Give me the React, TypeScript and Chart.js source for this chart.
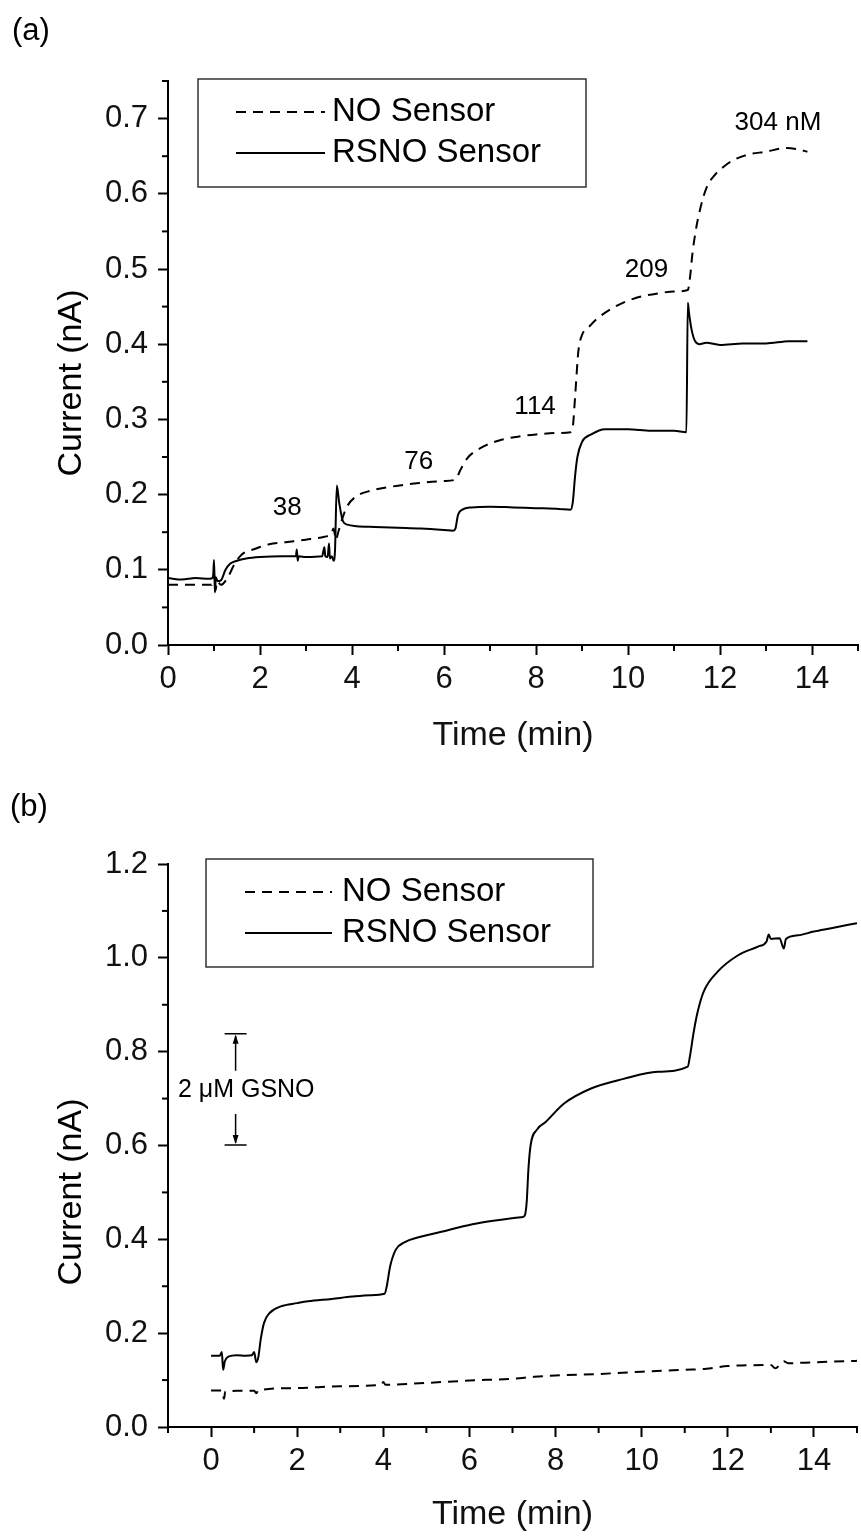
import React, { useEffect, useRef } from "react";
import { Chart, registerables } from "chart.js";
Chart.register(...registerables);

const FONT = "'Liberation Sans', Arial, Helvetica, sans-serif";

// ---------------- Panel (a) data: [time (min), current (nA)] ----------------
const noSensorA: [number, number][] = [
  [0, 0.08], [0.5, 0.08], [0.95, 0.08], [1.0, 0.095], [1.03, 0.072], [1.07, 0.085], [1.15, 0.08],
  [1.3, 0.09], [1.45, 0.108], [1.6, 0.12], [1.9, 0.128], [2.2, 0.134], [2.6, 0.137], [3.0, 0.14],
  [3.4, 0.144], [3.55, 0.148], [3.6, 0.155], [3.65, 0.14], [3.7, 0.15], [3.8, 0.17], [3.9, 0.185],
  [4.1, 0.198], [4.4, 0.205], [4.8, 0.21], [5.4, 0.215], [6.0, 0.218], [6.25, 0.22], [6.35, 0.232],
  [6.5, 0.248], [6.8, 0.262], [7.2, 0.272], [7.6, 0.277], [8.0, 0.28], [8.5, 0.282], [8.75, 0.283],
  [8.8, 0.29], [8.85, 0.33], [8.92, 0.39], [9.0, 0.412], [9.15, 0.423], [9.35, 0.435], [9.75, 0.451],
  [10.2, 0.462], [10.7, 0.468], [11.0, 0.47], [11.3, 0.472], [11.35, 0.49], [11.4, 0.52], [11.47, 0.55],
  [11.57, 0.58], [11.7, 0.607], [11.9, 0.626], [12.1, 0.637], [12.3, 0.645], [12.6, 0.652], [13.0, 0.656],
  [13.45, 0.661], [13.7, 0.659], [13.9, 0.656],
];
const rsnoSensorA: [number, number][] = [
  [0, 0.089], [0.3, 0.087], [0.6, 0.089], [0.9, 0.088], [0.98, 0.09], [1.0, 0.113], [1.02, 0.07],
  [1.04, 0.09], [1.08, 0.085], [1.15, 0.086], [1.25, 0.1], [1.35, 0.108], [1.5, 0.112], [1.7, 0.115],
  [2.0, 0.117], [2.5, 0.118], [2.78, 0.118], [2.8, 0.127], [2.82, 0.112], [2.84, 0.118], [3.0, 0.117],
  [3.35, 0.118], [3.4, 0.13], [3.42, 0.118], [3.47, 0.117], [3.5, 0.135], [3.52, 0.115], [3.56, 0.118],
  [3.6, 0.112], [3.63, 0.125], [3.67, 0.212], [3.72, 0.19], [3.8, 0.165], [3.9, 0.16], [4.1, 0.158],
  [4.5, 0.157], [5.0, 0.156], [5.5, 0.155], [6.0, 0.153], [6.2, 0.152], [6.25, 0.155], [6.3, 0.172],
  [6.4, 0.18], [6.6, 0.183], [7.0, 0.184], [7.5, 0.183], [8.0, 0.182], [8.5, 0.181], [8.75, 0.18],
  [8.8, 0.19], [8.85, 0.225], [8.9, 0.25], [9.0, 0.27], [9.2, 0.28], [9.5, 0.287], [10.0, 0.287],
  [10.5, 0.285], [11.0, 0.285], [11.27, 0.283], [11.3, 0.455], [11.33, 0.44], [11.38, 0.42],
  [11.45, 0.405], [11.55, 0.4], [11.7, 0.402], [12.0, 0.399], [12.5, 0.401], [13.0, 0.401],
  [13.5, 0.404], [13.9, 0.404],
];
const concLabelsA = ["38", "76", "114", "209", "304 nM"];
const concLabelTimeA = [2.59, 5.45, 7.98, 10.4, 13.26];
const concLabelCurrentA = [0.182, 0.244, 0.317, 0.499, 0.694];
const xTicksA = [0, 2, 4, 6, 8, 10, 12, 14];
const xMinorA = [1, 3, 5, 7, 9, 11, 13, 15];
const yTicksA = [0, 0.1, 0.2, 0.3, 0.4, 0.5, 0.6, 0.7];
const yMinorA = [0.05, 0.15, 0.25, 0.35, 0.45, 0.55, 0.65, 0.75];

// ---------------- Panel (b) data ----------------
const noSensorB: [number, number][] = [
  [0, 0.078], [0.25, 0.078], [0.3, 0.06], [0.33, 0.075], [0.6, 0.077], [1.0, 0.077], [1.05, 0.072],
  [1.1, 0.078], [2.0, 0.083], [3.0, 0.087], [3.95, 0.09], [4.0, 0.096], [4.05, 0.09], [5.0, 0.094],
  [6.0, 0.099], [7.0, 0.103], [7.5, 0.107], [8.0, 0.11], [9.0, 0.113], [10.0, 0.118], [11.0, 0.122],
  [11.5, 0.124], [12.0, 0.13], [13.0, 0.132], [13.1, 0.125], [13.3, 0.14], [13.4, 0.136], [14.0, 0.138],
  [15.0, 0.141],
];
const rsnoSensorB: [number, number][] = [
  [0, 0.152], [0.2, 0.152], [0.25, 0.16], [0.28, 0.122], [0.32, 0.14], [0.4, 0.15], [0.6, 0.153],
  [0.8, 0.152], [0.95, 0.153], [1.0, 0.16], [1.05, 0.138], [1.1, 0.15], [1.15, 0.185], [1.23, 0.222],
  [1.36, 0.243], [1.62, 0.257], [2.0, 0.264], [2.25, 0.268], [2.8, 0.273], [3.27, 0.278], [3.7, 0.281],
  [4.03, 0.284], [4.08, 0.3], [4.16, 0.343], [4.29, 0.378], [4.5, 0.394], [4.8, 0.404], [5.3, 0.415],
  [6.07, 0.432], [6.6, 0.44], [7.2, 0.447], [7.28, 0.45], [7.33, 0.48], [7.37, 0.55], [7.42, 0.6],
  [7.58, 0.635], [7.77, 0.65], [8.19, 0.689], [8.81, 0.721], [9.58, 0.742], [10.37, 0.757],
  [11.07, 0.768], [11.12, 0.79], [11.21, 0.843], [11.3, 0.885], [11.44, 0.928], [11.77, 0.971],
  [12.23, 1.005], [12.7, 1.024], [12.9, 1.035], [12.95, 1.05], [13.0, 1.04], [13.2, 1.042],
  [13.3, 1.02], [13.35, 1.04], [13.63, 1.048], [14.0, 1.056], [14.4, 1.063], [15.0, 1.074],
];
const gsnoLabel = "2 \u03bcM GSNO";
const gsnoBracketCurrent = [0.601, 0.838];
const gsnoBracketTime = 0.57;
const gsnoLabelPos = [-0.77, 0.717];
const xTicksB = [0, 2, 4, 6, 8, 10, 12, 14];
const xMinorB = [-1, 1, 3, 5, 7, 9, 11, 13, 15];
const yTicksB = [0, 0.2, 0.4, 0.6, 0.8, 1.0, 1.2];
const yMinorB = [0.1, 0.3, 0.5, 0.7, 0.9, 1.1];

const seriesNames = ["NO Sensor", "RSNO Sensor"];

const toXY = (arr: [number, number][]) => arr.map(([x, y]) => ({ x, y }));

const decorPlugin = {
  id: "decor",
  afterDraw(chart: any, _args: any, o: any) {
    const { ctx, chartArea } = chart;
    const xs = chart.scales.x;
    const ys = chart.scales.y;
    ctx.save();
    ctx.strokeStyle = "#000";
    ctx.fillStyle = "#000";
    ctx.lineWidth = 2;
    // minor ticks
    o.xMinor.forEach((v: number) => {
      const px = xs.getPixelForValue(v);
      ctx.beginPath();
      ctx.moveTo(px, chartArea.bottom);
      ctx.lineTo(px, chartArea.bottom + 6);
      ctx.stroke();
    });
    o.yMinor.forEach((v: number) => {
      const py = ys.getPixelForValue(v);
      ctx.beginPath();
      ctx.moveTo(chartArea.left - 6, py);
      ctx.lineTo(chartArea.left, py);
      ctx.stroke();
    });
    // panel label
    ctx.font = `31px ${FONT}`;
    ctx.textAlign = "left";
    ctx.textBaseline = "middle";
    ctx.fillText(o.panel, o.panelPos[0], o.panelPos[1]);
    // y title
    ctx.save();
    ctx.translate(o.yTitlePos[0], o.yTitlePos[1]);
    ctx.rotate(-Math.PI / 2);
    ctx.font = `34px ${FONT}`;
    ctx.textAlign = "center";
    ctx.textBaseline = "middle";
    ctx.fillText("Current (nA)", 0, 0);
    ctx.restore();
    // legend box
    const lg = o.legend;
    ctx.lineWidth = 1.5;
    ctx.strokeStyle = "#333";
    ctx.strokeRect(lg.box[0], lg.box[1], lg.box[2] - lg.box[0], lg.box[3] - lg.box[1]);
    chart.data.datasets.forEach((ds: any, i: number) => {
      const yy = lg.rows[i];
      ctx.strokeStyle = "#000";
      ctx.lineWidth = 2;
      ctx.setLineDash(ds.borderDash || []);
      ctx.beginPath();
      ctx.moveTo(lg.lineX[0], yy);
      ctx.lineTo(lg.lineX[1], yy);
      ctx.stroke();
      ctx.setLineDash([]);
      ctx.font = `33px ${FONT}`;
      ctx.textAlign = "left";
      ctx.textBaseline = "middle";
      ctx.fillText(ds.label, lg.textX, yy);
    });
    // annotations
    if (o.conc) {
      ctx.font = `26px ${FONT}`;
      ctx.textAlign = "center";
      ctx.textBaseline = "middle";
      o.conc.labels.forEach((t: string, i: number) => {
        ctx.fillText(t, xs.getPixelForValue(o.conc.t[i]), ys.getPixelForValue(o.conc.v[i]));
      });
    }
    if (o.bracket) {
      const b = o.bracket;
      const cx = xs.getPixelForValue(b.t);
      const yBot = ys.getPixelForValue(b.v[0]);
      const yTop = ys.getPixelForValue(b.v[1]);
      ctx.strokeStyle = "#000";
      ctx.lineWidth = 1.5;
      ctx.beginPath();
      ctx.moveTo(cx - 11, yTop); ctx.lineTo(cx + 11, yTop);
      ctx.moveTo(cx - 11, yBot); ctx.lineTo(cx + 11, yBot);
      ctx.moveTo(cx, yTop + 2); ctx.lineTo(cx, yTop + 37);
      ctx.moveTo(cx, yBot - 2); ctx.lineTo(cx, yBot - 31);
      ctx.stroke();
      ctx.beginPath();
      ctx.moveTo(cx, yTop + 1); ctx.lineTo(cx - 3, yTop + 10); ctx.lineTo(cx + 3, yTop + 10); ctx.closePath();
      ctx.moveTo(cx, yBot - 1); ctx.lineTo(cx - 3, yBot - 10); ctx.lineTo(cx + 3, yBot - 10); ctx.closePath();
      ctx.fill();
      ctx.font = `25px ${FONT}`;
      ctx.textAlign = "left";
      ctx.textBaseline = "middle";
      ctx.fillText(b.label, xs.getPixelForValue(b.labelPos[0]), ys.getPixelForValue(b.labelPos[1]));
    }
    ctx.restore();
  },
};

function buildConfig(p: any) {
  const tickFont = { family: FONT, size: 31 };
  return {
    type: "line",
    data: {
      datasets: [
        {
          label: seriesNames[0],
          data: toXY(p.no),
          borderColor: "#000",
          borderWidth: 2,
          borderDash: [10, 7],
          pointRadius: 0,
          cubicInterpolationMode: "monotone",
          fill: false,
        },
        {
          label: seriesNames[1],
          data: toXY(p.rsno),
          borderColor: "#000",
          borderWidth: 2,
          pointRadius: 0,
          cubicInterpolationMode: "monotone",
          fill: false,
        },
      ],
    },
    options: {
      responsive: false,
      animation: false,
      devicePixelRatio: 1,
      layout: { padding: { top: p.padTop, right: p.padRight, left: 0, bottom: 0 } },
      plugins: {
        legend: { display: false },
        tooltip: { enabled: false },
        decor: p.decor,
      },
      scales: {
        x: {
          type: "linear",
          position: "bottom",
          min: p.xMin,
          max: p.xMax,
          afterBuildTicks: (s: any) => {
            s.ticks = p.xTicks.map((v: number) => ({ value: v }));
          },
          afterFit: (s: any) => {
            s.height = p.xAxisHeight;
          },
          ticks: {
            font: tickFont,
            color: "#111",
            padding: 6,
            maxRotation: 0,
            autoSkip: false,
            callback: (v: any) => String(v),
          },
          grid: {
            display: true,
            drawOnChartArea: false,
            drawTicks: true,
            tickLength: 10,
            tickWidth: 2,
            tickColor: "#000",
            color: "#000",
          },
          border: { display: true, color: "#000", width: 2 },
          title: {
            display: true,
            text: "Time (min)",
            color: "#111",
            font: { family: FONT, size: 34 },
            padding: { top: 0, bottom: p.xTitlePad },
          },
        },
        y: {
          type: "linear",
          position: "left",
          min: p.yMin,
          max: p.yMax,
          afterBuildTicks: (s: any) => {
            s.ticks = p.yTicks.map((v: number) => ({ value: v }));
          },
          afterFit: (s: any) => {
            s.width = 168;
          },
          ticks: {
            font: tickFont,
            color: "#111",
            padding: 10,
            autoSkip: false,
            callback: (v: any) => Number(v).toFixed(1),
          },
          grid: {
            display: true,
            drawOnChartArea: false,
            drawTicks: true,
            tickLength: 10,
            tickWidth: 2,
            tickColor: "#000",
            color: "#000",
          },
          border: { display: true, color: "#000", width: 2 },
          title: { display: false },
        },
      },
    },
    plugins: [decorPlugin],
  };
}

const panelA = {
  no: noSensorA,
  rsno: rsnoSensorA,
  padTop: 81,
  padRight: 3,
  xMin: 0,
  xMax: 15,
  yMin: 0,
  yMax: 0.75,
  xTicks: xTicksA,
  yTicks: yTicksA,
  xAxisHeight: 123,
  xTitlePad: 12,
  decor: {
    xMinor: xMinorA,
    yMinor: yMinorA,
    panel: "(a)",
    panelPos: [12, 31],
    yTitlePos: [72, 383],
    legend: { box: [198, 79, 586, 187], rows: [112, 153], lineX: [236, 325], textX: 332 },
    conc: { labels: concLabelsA, t: concLabelTimeA, v: concLabelCurrentA },
  },
};

const panelB = {
  no: noSensorB,
  rsno: rsnoSensorB,
  padTop: 96,
  padRight: 4,
  xMin: -1,
  xMax: 15,
  yMin: 0,
  yMax: 1.2,
  xTicks: xTicksB,
  yTicks: yTicksB,
  xAxisHeight: 109,
  xTitlePad: 1,
  decor: {
    xMinor: xMinorB,
    yMinor: yMinorB,
    panel: "(b)",
    panelPos: [10, 39],
    yTitlePos: [72, 424],
    legend: { box: [206, 91, 593, 199], rows: [124, 165], lineX: [245, 332], textX: 342 },
    bracket: {
      t: gsnoBracketTime,
      v: gsnoBracketCurrent,
      label: gsnoLabel,
      labelPos: gsnoLabelPos,
    },
  },
};

function Panel({ cfg }: { cfg: any }) {
  const ref = useRef<HTMLCanvasElement | null>(null);
  useEffect(() => {
    if (!ref.current) return;
    const chart = new Chart(ref.current, buildConfig(cfg) as any);
    return () => chart.destroy();
  }, [cfg]);
  return <canvas ref={ref} width={861} height={768} style={{ display: "block", width: 861, height: 768 }} />;
}

export default function App() {
  return (
    <div style={{ position: "absolute", left: 0, top: 0, width: 861, height: 1536, background: "#fff" }}>
      <Panel cfg={panelA} />
      <Panel cfg={panelB} />
    </div>
  );
}
